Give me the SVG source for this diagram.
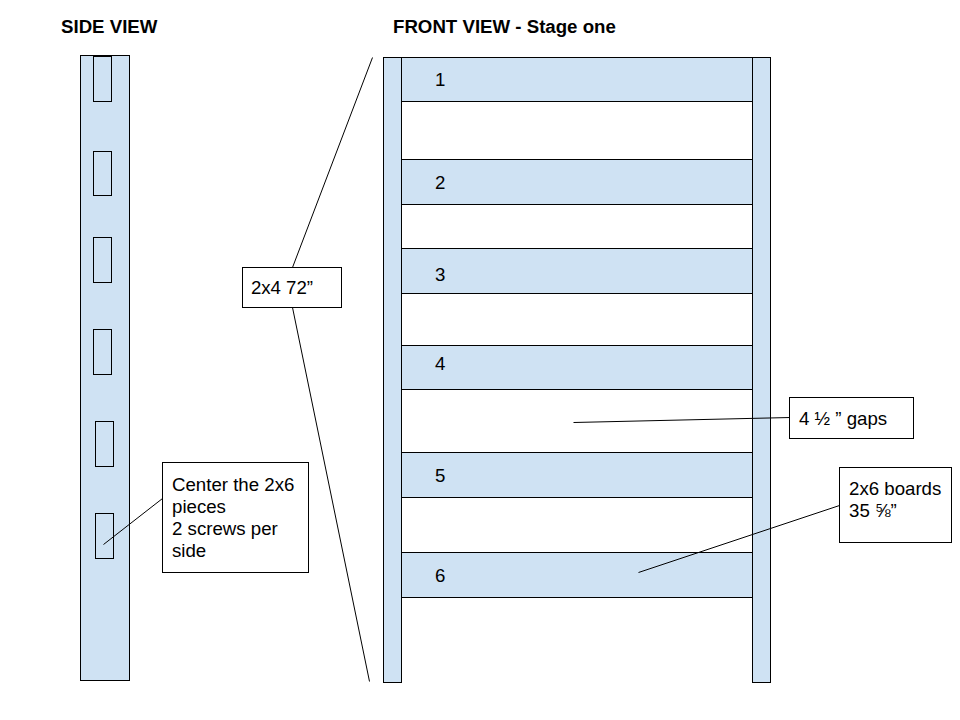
<svg xmlns="http://www.w3.org/2000/svg" width="960" height="720" viewBox="0 0 960 720">
<style>
.b{fill:#cfe2f3;stroke:#000;stroke-width:1}
.s{fill:none;stroke:#000;stroke-width:1}
.w{fill:#fff;stroke:#000;stroke-width:1}
text{font-family:"Liberation Sans",Arial,sans-serif;font-size:18.67px;fill:#000}
.h{font-weight:bold}
</style>
<rect width="960" height="720" fill="#fff"/>
<g id="titles">
<text class="h" x="61" y="33">SIDE VIEW</text>
<text class="h" x="393" y="33">FRONT VIEW - Stage one</text>
</g>
<g id="side-view">
<rect class="b" x="80.500" y="55.500" width="49" height="625"/>
<rect class="s" x="93.500" y="56.500" width="18" height="45"/>
<rect class="s" x="93.500" y="151.500" width="18" height="44"/>
<rect class="s" x="93.500" y="237.500" width="18" height="45"/>
<rect class="s" x="93.500" y="329.500" width="18" height="45"/>
<rect class="s" x="95.500" y="421.500" width="18" height="45"/>
<rect class="s" x="95.500" y="513.500" width="18" height="45"/>
</g>
<g id="front-posts">
<rect class="b" x="383.500" y="57.500" width="18" height="625"/>
<rect class="b" x="752.500" y="57.500" width="18" height="625"/>
</g>
<g id="board-1"><rect class="b" x="401.500" y="57.500" width="351" height="44"/><text x="435" y="86">1</text></g>
<g id="board-2"><rect class="b" x="401.500" y="159.500" width="351" height="45"/><text x="435" y="189">2</text></g>
<g id="board-3"><rect class="b" x="401.500" y="248.500" width="351" height="45"/><text x="435" y="281">3</text></g>
<g id="board-4"><rect class="b" x="401.500" y="345.500" width="351" height="44"/><text x="435" y="370">4</text></g>
<g id="board-5"><rect class="b" x="401.500" y="452.500" width="351" height="45"/><text x="435" y="482">5</text></g>
<g id="board-6"><rect class="b" x="401.500" y="552.500" width="351" height="45"/><text x="435" y="582">6</text></g>
<g id="connectors">
<line class="s" x1="372.500" y1="57.500" x2="292.500" y2="267.500"/>
<line class="s" x1="292.500" y1="307.500" x2="369.500" y2="681.500"/>
<line class="s" x1="103.500" y1="544.500" x2="162.500" y2="498.500"/>
<line class="s" x1="573.500" y1="422.500" x2="790.500" y2="417.500"/>
<line class="s" x1="638.500" y1="572.500" x2="839.500" y2="505.500"/>
</g>
<g id="label-2x4"><rect class="w" x="242.500" y="267.500" width="99" height="40"/><text x="251" y="294" textLength="62">2x4 72”</text></g>
<g id="label-center"><rect class="w" x="162.500" y="462.500" width="146" height="110"/>
<text x="172" y="491">Center the 2x6</text><text x="172" y="513">pieces</text><text x="172" y="535">2 screws per</text><text x="172" y="557">side</text></g>
<g id="label-gaps"><rect class="w" x="789.500" y="397.500" width="124" height="41"/><text x="799" y="425">4 ½ ” gaps</text></g>
<g id="label-boards"><rect class="w" x="839.500" y="467.500" width="112" height="75"/><text x="849" y="495">2x6 boards</text><text x="849" y="517">35 ⅝”</text></g>
</svg>
